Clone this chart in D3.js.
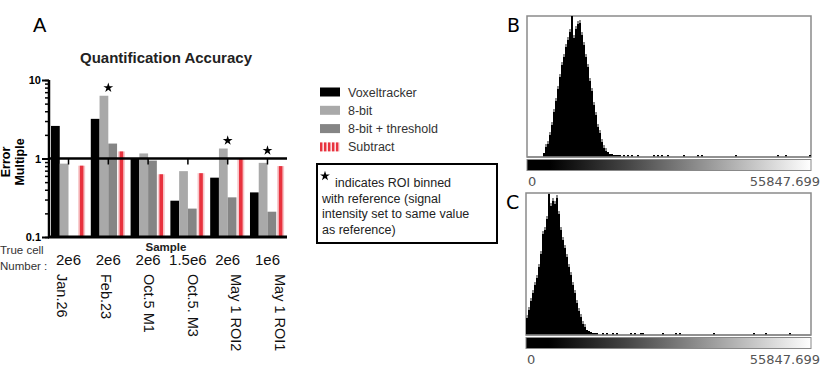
<!DOCTYPE html>
<html lang="en">
<head>
<meta charset="UTF-8">
<title>Quantification Accuracy</title>
<script src="https://cdn.jsdelivr.net/npm/d3@7/dist/d3.min.js"></script>
<style>
  body { margin: 0; background: #fff; }
  svg { display: block; font-family: "Liberation Sans", Arial, sans-serif; }
</style>
</head>
<body>
<svg id="chart" width="824" height="378"></svg>
<script>
// ---- data ----
const samples = ["Jan.26", "Feb.23", "Oct.5 M1", "Oct.5. M3", "May 1 ROI2", "May 1 ROI1"];
const cellNumbers = ["2e6", "2e6", "2e6", "1.5e6", "2e6", "1e6"];
const series = ["Voxeltracker", "8-bit", "8-bit + threshold", "Subtract"];
const voxeltracker = [2.6, 3.2, 1.0, 0.29, 0.57, 0.37];
const eightBit = [0.86, 6.3, 1.16, 0.69, 1.34, 0.88];
const eightBitThreshold = [null, 1.55, 0.94, 0.23, 0.32, 0.21];
const subtract = [0.81, 1.23, 0.63, 0.65, 1.0, 0.8];
const binnedWithRef = [false, true, false, false, true, true];
const yTickLabels = [0.1, 1, 10];

// histogram bins (B and C), counts of the first bins, then sparse tail bins
const histMax = 55847.699;
const nBins = 142;
const histB = [0, 0, 0, 0, 0, 0, 0, 0, 4, 10, 13, 22, 32, 45, 56, 68, 80, 92, 100, 110, 117, 125,
  141, 119, 128, 133, 134, 122, 112, 100, 90, 76, 66, 52, 42, 30, 24, 15, 9, 6, 5, 3, 3, 2, 2, 2, 2];
const tailB = [48, 50, 52, 55, 63, 65, 67, 70, 78, 85, 87, 104, 125, 129, 141];
const histC = [17, 25, 34, 42, 50, 57, 68, 80, 100, 104, 115, 140, 128, 133, 130, 136, 120, 104, 94, 86,
  77, 68, 60, 50, 42, 32, 24, 18, 11, 8, 5, 4, 3, 2, 2];
const tailC = [35, 38, 40, 43, 45, 52, 54, 57, 58, 68, 74, 76, 93, 113, 119, 131];

const colors = ["#000000", "#a9a9a9", "#858585", "#e8323e"];
const values = [voxeltracker, eightBit, eightBitThreshold, subtract];

const svg = d3.select("#chart");
svg.append("rect").attr("width", 824).attr("height", 378).attr("fill", "#fff");

// ---- panel A ----
const y = d3.scaleLog().domain([0.1, 10]).range([237, 80]);
const x0 = d3.scaleBand().domain(samples).range([51, 285]).paddingInner(0.12).paddingOuter(0);
const x1 = d3.scaleBand().domain(series).range([0, x0.bandwidth()]);
const labelX = d3.scalePoint().domain(samples).range([62, 280]);

svg.append("text").attr("x", 33).attr("y", 32).attr("font-size", 20).text("A");
svg.append("text").attr("x", 166).attr("y", 63).attr("text-anchor", "middle")
  .attr("font-size", 15).attr("font-weight", "bold").attr("fill", "#222")
  .text("Quantification Accuracy");

const groups = svg.append("g").selectAll("g")
  .data(samples)
  .join("g")
  .attr("transform", d => `translate(${x0(d)},0)`);

groups.each(function (s, gi) {
  const g = d3.select(this);
  series.forEach((name, si) => {
    const v = values[si][gi];
    if (v == null) return;
    if (name === "Subtract") {
      const cx = x1(name) + x1.bandwidth() / 2;
      g.append("rect").attr("x", cx - 3.5).attr("width", 7)
        .attr("y", y(v)).attr("height", y(0.1) - y(v)).attr("fill", "#f7c6c9");
      g.append("rect").attr("x", cx - 1.8).attr("width", 3.6)
        .attr("y", y(v)).attr("height", y(0.1) - y(v)).attr("fill", colors[si]);
    } else {
      g.append("rect").attr("x", x1(name)).attr("width", x1.bandwidth())
        .attr("y", y(v)).attr("height", y(0.1) - y(v)).attr("fill", colors[si]);
    }
  });
});

// stars
svg.append("g").selectAll("path")
  .data(samples.filter((d, i) => binnedWithRef[i]))
  .join("path")
  .attr("d", d3.symbol(d3.symbolStar, 30))
  .attr("transform", d => {
    const i = samples.indexOf(d);
    return `translate(${x0(d) + x0.bandwidth() / 2},${Math.min(y(eightBit[i]), y(1)) - 8})`;
  });

// y axis: minor and major ticks
const yMinor = svg.append("g").attr("transform", "translate(49,0)")
  .call(d3.axisLeft(y).tickValues(y.ticks()).tickSize(4).tickFormat(""));
yMinor.select(".domain").remove();
yMinor.selectAll("line").attr("stroke-width", 1.5);
const yMajor = svg.append("g").attr("transform", "translate(49,0)")
  .call(d3.axisLeft(y).tickValues(yTickLabels).tickSize(7).tickSizeOuter(0).tickFormat(d3.format("")));
yMajor.select(".domain").attr("stroke-width", 2.5).attr("d", `M0,${y(0.1) + 1}V${y(10)}`);
yMajor.selectAll("line").attr("stroke-width", 2);
yMajor.selectAll("text").attr("font-size", 11).attr("font-weight", "bold").attr("x", -8)
  .attr("font-family", "'Liberation Sans', Arial, sans-serif");

// x axis crossing at 1, with ticks at group centres
const xAxis = svg.append("g").attr("transform", `translate(0,${y(1)})`)
  .call(d3.axisBottom(x0).tickSize(6).tickSizeOuter(0).tickFormat(""));
xAxis.select(".domain").attr("stroke-width", 2.5).attr("d", "M48,0H287");
xAxis.selectAll("line").attr("stroke-width", 1.5);

// bottom line
svg.append("line").attr("x1", 48).attr("x2", 287).attr("y1", y(0.1)).attr("y2", y(0.1))
  .attr("stroke", "#000").attr("stroke-width", 3);

// axis titles
svg.append("text").attr("transform", "translate(10,162) rotate(-90)").attr("text-anchor", "middle")
  .attr("font-size", 12.5).attr("font-weight", "bold").text("Error");
svg.append("text").attr("transform", "translate(24,162) rotate(-90)").attr("text-anchor", "middle")
  .attr("font-size", 12.5).attr("font-weight", "bold").text("Multiple");
svg.append("text").attr("x", 166).attr("y", 251).attr("text-anchor", "middle")
  .attr("font-size", 11.5).attr("font-weight", "bold").attr("fill", "#222").text("Sample");

svg.append("text").attr("x", 0).attr("y", 254).attr("font-size", 11.5).attr("fill", "#333").text("True cell");
svg.append("text").attr("x", 0).attr("y", 270).attr("font-size", 11.5).attr("fill", "#333").text("Number :");

svg.append("g").selectAll("text")
  .data(cellNumbers)
  .join("text")
  .attr("x", (d, i) => x0(samples[i]) + x0.bandwidth() / 2)
  .attr("y", 265)
  .attr("text-anchor", "middle")
  .attr("font-size", 15)
  .attr("fill", "#111")
  .text(d => d);

svg.append("g").selectAll("text")
  .data(samples)
  .join("text")
  .attr("transform", d => `translate(${labelX(d) - 5},274) rotate(90)`)
  .attr("font-size", 14.5)
  .attr("fill", "#111")
  .text(d => d);

// legend
const defs = svg.append("defs");
const pat = defs.append("pattern").attr("id", "stripes").attr("patternUnits", "userSpaceOnUse")
  .attr("width", 4).attr("height", 10);
pat.append("rect").attr("width", 4).attr("height", 10).attr("fill", "#fbe0e2");
pat.append("rect").attr("width", 2.4).attr("height", 10).attr("fill", colors[3]);

const legend = svg.append("g").selectAll("g")
  .data(series)
  .join("g")
  .attr("transform", (d, i) => `translate(320,${92 + i * 18.3})`);
legend.append("rect").attr("y", -4.5).attr("width", 20).attr("height", 9)
  .attr("fill", (d, i) => i === 3 ? "url(#stripes)" : colors[i]);
legend.append("text").attr("x", 28).attr("y", 4.5).attr("font-size", 12.5).attr("fill", "#333").text(d => d);

// note box
svg.append("rect").attr("x", 317).attr("y", 164).attr("width", 180).attr("height", 79)
  .attr("fill", "none").attr("stroke", "#000").attr("stroke-width", 2);
svg.append("path").attr("d", d3.symbol(d3.symbolStar, 30)).attr("transform", "translate(325,176)");
const note = ["indicates ROI binned", "with reference (signal", "intensity set to same value", "as reference)"];
svg.append("g").selectAll("text")
  .data(note)
  .join("text")
  .attr("x", (d, i) => i === 0 ? 335 : 322)
  .attr("y", (d, i) => 187 + i * 15.5)
  .attr("font-size", 12.5)
  .attr("fill", "#222")
  .text(d => d);

// ---- panels B and C ----
const grad = defs.append("linearGradient").attr("id", "grey");
[[0, "#000"], [0.08, "#000"], [0.35, "#444"], [0.7, "#aaa"], [1, "#fff"]].forEach(s =>
  grad.append("stop").attr("offset", s[0]).attr("stop-color", s[1]));

function histogram(label, counts, tail, left, top, bottom) {
  const binW = histMax / nBins;
  const hx = d3.scaleLinear().domain([0, histMax]).range([left, 811]);
  const hy = d3.scaleLinear().domain([0, 141]).range([bottom, top]);
  const bins = d3.range(nBins).map(i => ({i, v: counts[i] || 0}));
  tail.forEach(t => { bins[t].v = Math.max(bins[t].v, 2); });
  const shown = bins.filter(b => b.v > 0);
  const fringeTop = b => b.v > 5 ? Math.max(top, hy(b.v) - 3) : hy(b.v);

  svg.append("text").attr("x", left - 20).attr("y", top + 16).attr("font-size", 19)
    .attr("font-family", "'DejaVu Sans', sans-serif").text(label);

  svg.append("rect").attr("x", left).attr("y", top).attr("width", 811 - left).attr("height", bottom - top)
    .attr("fill", "#fff").attr("stroke", "#8a8a8a").attr("stroke-width", 1.5);

  // grey fringe behind the black bins
  svg.append("g").attr("shape-rendering", "crispEdges").selectAll("rect")
    .data(shown)
    .join("rect")
    .attr("x", b => hx(b.i * binW))
    .attr("width", b => hx((b.i + 1) * binW) - hx(b.i * binW))
    .attr("y", fringeTop)
    .attr("height", b => bottom - fringeTop(b))
    .attr("fill", "#8c8c8c");

  svg.append("g").attr("shape-rendering", "crispEdges").selectAll("rect")
    .data(shown)
    .join("rect")
    .attr("x", b => hx(b.i * binW))
    .attr("width", b => hx((b.i + 1) * binW) - hx(b.i * binW))
    .attr("y", b => hy(b.v))
    .attr("height", b => bottom - hy(b.v))
    .attr("fill", "#000");

  svg.append("line").attr("x1", left).attr("x2", 811).attr("y1", bottom).attr("y2", bottom)
    .attr("stroke", "#8a8a8a").attr("stroke-width", 1.5);

  svg.append("rect").attr("x", left).attr("y", bottom + 2.5).attr("width", 811 - left).attr("height", 11)
    .attr("fill", "url(#grey)").attr("stroke", "#888").attr("stroke-width", 1);

  svg.append("text").attr("x", hx(0) + 1).attr("y", bottom + 29).attr("font-size", 13)
    .attr("font-family", "'DejaVu Sans', sans-serif").attr("fill", "#555").text(d3.format("")(0));
  svg.append("text").attr("x", 820).attr("y", bottom + 29).attr("text-anchor", "end").attr("font-size", 13)
    .attr("font-family", "'DejaVu Sans', sans-serif").attr("fill", "#555").text(histMax.toFixed(3));
}

histogram("B", histB, tailB, 527, 16, 157);
histogram("C", histC, tailC, 526, 193, 335);
</script>
</body>
</html>
